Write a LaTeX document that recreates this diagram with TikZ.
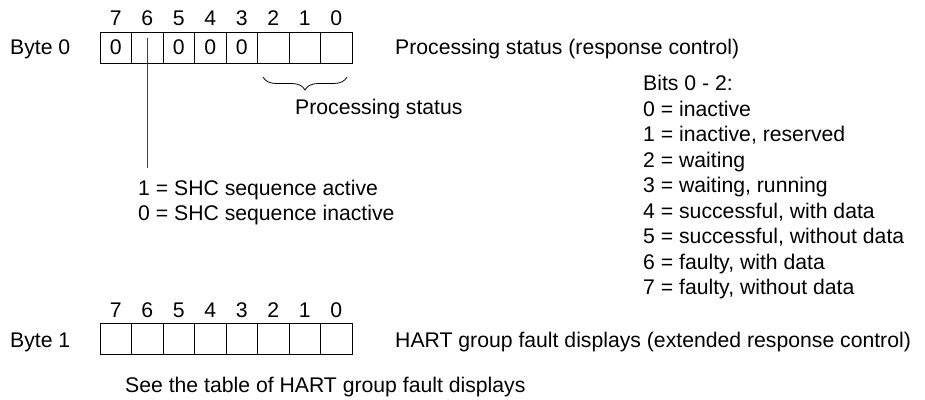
\documentclass[tikz,border=0pt]{standalone}
\usepackage{fontspec}
\setmainfont{Liberation Sans}
\usetikzlibrary{decorations.pathreplacing}
\begin{document}
\begin{tikzpicture}[x=1pt,y=-1pt,
  font=\fontsize{21.2}{25.5}\selectfont,
  txt/.style={anchor=base west, inner sep=0pt},
  num/.style={anchor=base, inner sep=0pt},
  cell/.style={draw, line width=1pt, minimum width=31.5pt, minimum height=31pt, inner sep=0pt},
  lead/.style={draw=black!75, line width=0.9pt},
  bracestyle/.style={decorate, decoration={brace, mirror, amplitude=13pt}, line width=0.8pt}]
\useasboundingbox (0,0) rectangle (925,399);

% Byte 0
\node[txt] (byte0) at (10,54.5) {Byte 0};
\foreach \b/\t [count=\i from 0] in {7/0,6/,5/0,4/0,3/0,2/,1/,0/}{
  \node[cell] (c\b) at ({115.75+31.5*\i},47.5) {\t};
  \node[num] (n\b) at ({115.75+31.5*\i},25.5) {\b};
}
\node[txt] (ps0) at (395,54.5) {Processing status (response control)};

% brace under bits 2..0
\coordinate (bl) at (263,77);
\coordinate (br) at (347,77);
\draw[bracestyle] (bl) -- (br);
\node[txt] (ps) at (295,114.5) {Processing status};

% lead line from bit 6
\coordinate (ls) at (147.25,38);
\coordinate (le) at (147.25,168);
\draw[lead] (ls) -- (le);
\node[txt] (shc1) at (138,195.5) {1 = SHC sequence active};
\node[txt] (shc0) at (138,220.5) {0 = SHC sequence inactive};

% bits 0-2 legend
\node[txt] (l0) at (643,90.5) {Bits 0 - 2:};
\node[txt] (l1) at (643,116) {0 = inactive};
\node[txt] (l2) at (643,141.5) {1 = inactive, reserved};
\node[txt] (l3) at (643,167) {2 = waiting};
\node[txt] (l4) at (643,192.5) {3 = waiting, running};
\node[txt] (l5) at (643,218.5) {4 = successful, with data};
\node[txt] (l6) at (643,243.5) {5 = successful, without data};
\node[txt] (l7) at (643,269) {6 = faulty, with data};
\node[txt] (l8) at (643,294.5) {7 = faulty, without data};

% Byte 1
\node[txt] (byte1) at (10,347.5) {Byte 1};
\foreach \b [count=\i from 0] in {7,6,5,4,3,2,1,0}{
  \node[cell] (d\b) at ({115.75+31.5*\i},338.5) {};
  \node[num] (m\b) at ({115.75+31.5*\i},317.5) {\b};
}
\node[txt] (hart) at (395,347.5) {HART group fault displays (extended response control)};
\node[txt] (see) at (125,392.5) {See the table of HART group fault displays};
\end{tikzpicture}
\end{document}
